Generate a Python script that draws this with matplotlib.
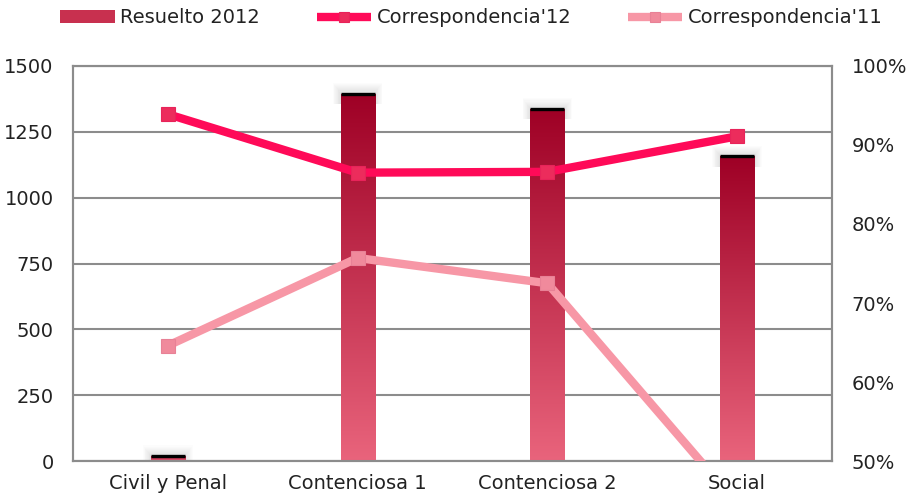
import numpy as np
import matplotlib.pyplot as plt
from matplotlib.colors import LinearSegmentedColormap
from matplotlib.patches import Rectangle

plt.rcParams['font.family'] = ['DejaVu Sans']

# ---------------------------------------------------------------------------
# data
# ---------------------------------------------------------------------------
categories = ['Civil y Penal', 'Contenciosa 1', 'Contenciosa 2', 'Social']
resuelto_2012 = [19, 1395, 1337, 1158]
corr_12 = [93.9, 86.5, 86.6, 91.1]
corr_11 = [64.6, 75.7, 72.5, 44.6]

left_ticks = [0, 250, 500, 750, 1000, 1250, 1500]
right_ticks = [50, 60, 70, 80, 90, 100]

# ---------------------------------------------------------------------------
# styles
# ---------------------------------------------------------------------------
bar_top = '#9E0025'
bar_bottom = '#E9647C'
c12 = '#FF0A58'
c11 = '#F797A6'
grid_col = '#8C8C8C'
text_col = '#222222'
bar_w = 0.18
fsize = 14

fig = plt.figure(figsize=(9.08, 5.01), dpi=100)
ax = fig.add_axes([0.0804, 0.0798, 0.8359, 0.7885])
ax2 = ax.twinx()

x = np.arange(len(categories))

# soft shadow mostly above the bar tops
for xi, v in zip(x, resuelto_2012):
    for k in range(10):
        pad = 0.004 * (k + 1)
        lo = max(v - 40, 0)
        ax.add_patch(Rectangle((xi - bar_w / 2 - pad, lo), bar_w + 2 * pad,
                               v - lo + 4 * (k + 1),
                               facecolor='#000000', alpha=0.01, lw=0, zorder=1))

bars = ax.bar(x, resuelto_2012, width=bar_w, color=bar_top, zorder=2,
              label='Resuelto 2012')

# vertical gradient inside each bar
cmap = LinearSegmentedColormap.from_list('bar', [bar_bottom, bar_top])
grad = np.linspace(0, 1, 256).reshape(-1, 1)
for b in bars:
    bx, by = b.get_x(), b.get_y()
    bw, bh = b.get_width(), b.get_height()
    im = ax.imshow(grad, extent=[bx, bx + bw, by, by + bh], origin='lower',
                   cmap=cmap, aspect='auto', zorder=3)
    im.set_clip_path(b)
    ax.hlines(by + bh, bx, bx + bw, color='black', lw=2.4, zorder=4)

ax.set_xlim(-0.5, len(categories) - 0.5)
ax.set_ylim(0, 1500)
ax.set_yticks(left_ticks)
ax.set_xticks(x)
ax.set_xticklabels(categories)
ax.yaxis.grid(True, color=grid_col, lw=1.5)
ax.set_axisbelow(True)

ax2.plot(x, corr_12, color=c12, lw=6, solid_capstyle='butt', zorder=5,
         marker='s', markersize=10, markerfacecolor='#EC2C5C',
         markeredgecolor='#E8235A', markeredgewidth=0.8, label="Correspondencia'12")
ax2.plot(x, corr_11, color=c11, lw=6, solid_capstyle='butt', zorder=5,
         marker='s', markersize=10, markerfacecolor='#F08A9C',
         markeredgecolor='#E88196', markeredgewidth=0.8, label="Correspondencia'11")
ax2.set_ylim(50, 100)
ax2.set_yticks(right_ticks)
ax2.set_yticklabels([f'{t}%' for t in right_ticks])

ax.set_zorder(ax2.get_zorder() - 1)
ax.patch.set_visible(True)
ax2.patch.set_visible(False)

for a in (ax, ax2):
    for s in a.spines.values():
        s.set_color(grid_col)
        s.set_linewidth(1.5)
    a.tick_params(length=0, labelsize=fsize, colors=text_col, pad=14)
ax.tick_params(axis='x', pad=9)

h1, l1 = ax.get_legend_handles_labels()
h2, l2 = ax2.get_legend_handles_labels()
leg = fig.legend(h1 + h2, l1 + l2, loc='upper left', bbox_to_anchor=(0.047, 1.018),
                 ncol=3, frameon=False, fontsize=fsize, handlelength=2.8,
                 handletextpad=0.3, columnspacing=2.9, markerscale=0.75)
leg.legend_handles[0].set_facecolor('#C8304F')
for t in leg.get_texts():
    t.set_color(text_col)

fig.savefig('out.png', dpi=100)
